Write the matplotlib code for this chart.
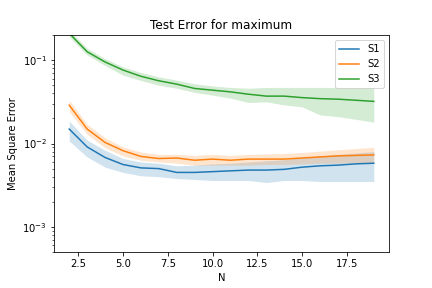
import numpy as np
import matplotlib
matplotlib.use("Agg")
import matplotlib.pyplot as plt

N = np.arange(2, 20)

s1_mean = [0.0149, 0.0091, 0.0068, 0.0056, 0.0051, 0.0050, 0.0045, 0.0045, 0.0046,
           0.0047, 0.0048, 0.0048, 0.0049, 0.0052, 0.0054, 0.0055, 0.0057, 0.0058]
s1_low = [0.0107, 0.0069, 0.0052, 0.0045, 0.0041, 0.0040, 0.0038, 0.0037, 0.0036,
          0.0036, 0.0036, 0.0034, 0.0036, 0.0036, 0.0035, 0.0035, 0.0035, 0.0035]
s1_high = [0.0186, 0.0110, 0.0083, 0.0066, 0.0060, 0.0058, 0.0054, 0.0055, 0.0057,
           0.0058, 0.0060, 0.0062, 0.0064, 0.0068, 0.0071, 0.0074, 0.0077, 0.0080]

s2_mean = [0.0288, 0.0149, 0.0103, 0.0082, 0.0070, 0.0066, 0.0067, 0.0063, 0.0065,
           0.0063, 0.0065, 0.0065, 0.0065, 0.0067, 0.0069, 0.0071, 0.0072, 0.0073]
s2_low = [0.0240, 0.0129, 0.0089, 0.0071, 0.0063, 0.0060, 0.0058, 0.0055, 0.0055,
          0.0055, 0.0055, 0.0056, 0.0056, 0.0057, 0.0058, 0.0058, 0.0059, 0.0059]
s2_high = [0.0330, 0.0170, 0.0117, 0.0091, 0.0079, 0.0074, 0.0074, 0.0072, 0.0074,
           0.0072, 0.0074, 0.0075, 0.0076, 0.0078, 0.0081, 0.0084, 0.0087, 0.0090]

s3_mean = [0.210, 0.126, 0.095, 0.076, 0.064, 0.0565, 0.0515, 0.0457, 0.0436,
           0.0416, 0.039, 0.037, 0.037, 0.0355, 0.0345, 0.034, 0.033, 0.032]
s3_low = [0.190, 0.115, 0.086, 0.066, 0.057, 0.050, 0.046, 0.041, 0.038,
          0.035, 0.031, 0.0316, 0.029, 0.0275, 0.022, 0.021, 0.0195, 0.018]
s3_high = [0.230, 0.138, 0.104, 0.083, 0.071, 0.063, 0.0575, 0.052, 0.049,
           0.047, 0.046, 0.047, 0.047, 0.047, 0.047, 0.047, 0.047, 0.047]

series = [("S1", s1_mean, s1_low, s1_high),
          ("S2", s2_mean, s2_low, s2_high),
          ("S3", s3_mean, s3_low, s3_high)]

fig, ax = plt.subplots(figsize=(6, 4), dpi=72)
fig.subplots_adjust(left=54 / 432, right=389 / 432, top=1 - 35 / 288, bottom=1 - 252 / 288)

for name, mean, low, high in series:
    line, = ax.plot(N, mean, label=name)
    ax.fill_between(N, low, high, color=line.get_color(), alpha=0.2, linewidth=0)

ax.set_yscale("log")
ax.set_ylim(5e-4, 0.2)
ax.set_title("Test Error for maximum")
ax.set_xlabel("N")
ax.set_ylabel("Mean Square Error")
ax.legend(loc="upper right")

fig.savefig("out.png", dpi=72)
